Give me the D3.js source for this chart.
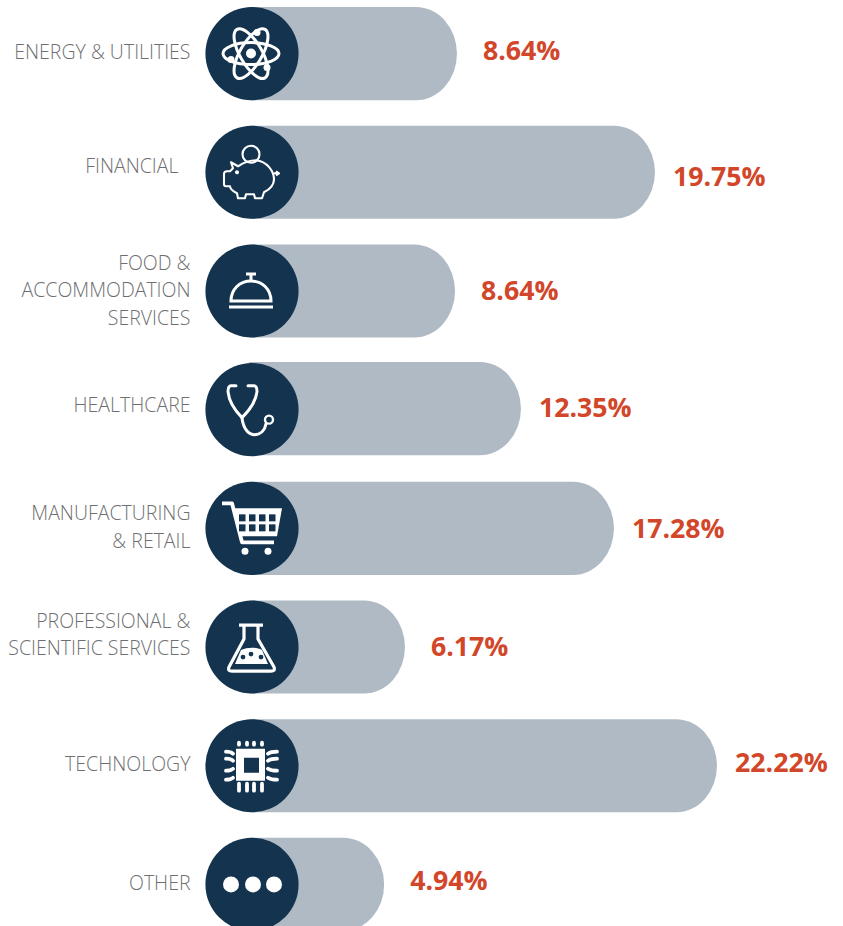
<!DOCTYPE html>
<html><head><meta charset="utf-8">
<script src="https://cdn.jsdelivr.net/npm/d3@7"></script>
<style>html,body{margin:0;padding:0;background:#fff}svg{display:block}</style>
</head><body><svg id="c" width="843" height="926"></svg>
<script>
const categories=["ENERGY & UTILITIES","FINANCIAL","FOOD & ACCOMMODATION SERVICES","HEALTHCARE","MANUFACTURING & RETAIL","PROFESSIONAL & SCIENTIFIC SERVICES","TECHNOLOGY","OTHER"];
const labelLines=[["ENERGY & UTILITIES"],["FINANCIAL"],["FOOD &","ACCOMMODATION","SERVICES"],["HEALTHCARE"],["MANUFACTURING","& RETAIL"],["PROFESSIONAL &","SCIENTIFIC SERVICES"],["TECHNOLOGY"],["OTHER"]];
const values=[8.64,19.75,8.64,12.35,17.28,6.17,22.22,4.94];
// The drawn bars are not strictly proportional to the printed numbers: lengths.
const drawnLengths=[8.72,19.0,8.62,12.04,16.87,6.02,22.22,4.94];
const valueLabelGap=[26,18,26,18,18,26,18,26];
const valueLabelDy=[-3,5,0,-2,1,0,-3,-3];
const labelDx=[0,-12,0,0,0,0,0,0];
const labelDy=[-1,-6,0,-4,-1,-12,-1,-1];
const barDy=[0,0,0,-1,0,0,0,0];
const svg=d3.select("#c");
const NAVY="#13334f",BAR="#afbac4",RED="#d2462a",GREY="#6e6f72";
const y=d3.scaleBand().domain(categories).range([7,931]).paddingInner(0.215).paddingOuter(0);
const x=d3.scaleLinear().domain([0,22.22]).range([289,717]);
const cx=252,h=y.bandwidth(),r=h/2,capX=41;
const rows=svg.selectAll("g.row").data(categories).join("g").attr("class","row");
rows.append("path").attr("fill",BAR).attr("d",(c,i)=>{
  const t=y(c)+barDy[i],e=x(drawnLengths[i]);
  return `M${cx-3} ${t}H${e-capX}A${capX} ${r} 0 0 1 ${e-capX} ${t+h}H${cx-3}Z`;
});
rows.append("circle").attr("cx",cx).attr("cy",c=>y(c)+r).attr("r",r).attr("fill",NAVY);
rows.append("text").attr("text-anchor","end").attr("font-family","'Open Sans'").attr("font-weight",300)
 .attr("font-size",19.5).attr("fill",GREY)
 .each(function(c,i){
   const L=labelLines[i],m=y(c)+r;
   d3.select(this).selectAll("tspan").data(L).join("tspan")
    .attr("x",190.5+labelDx[i]).attr("y",(d,k)=>m+labelDy[i]+6.5+(k-(L.length-1)/2)*27.4).text(d=>d);
 });
rows.append("text").attr("font-family","'Open Sans'").attr("font-weight",700).attr("font-size",26.7).attr("fill",RED)
 .attr("x",(c,i)=>x(drawnLengths[i])+valueLabelGap[i]).attr("y",(c,i)=>y(c)+r+valueLabelDy[i]+9)
 .text((c,i)=>d3.format(".2f")(values[i])+"%");
const icons=[
 g=>{ // atom
  g.attr("fill","none").attr("stroke","#fff").attr("stroke-width",3);
  [0,60,120].forEach(a=>g.append("ellipse").attr("rx",28).attr("ry",11).attr("transform",`translate(-1,0) rotate(${a})`));
  g.append("circle").attr("cx",-1).attr("r",5).attr("fill","#fff").attr("stroke","none");
  [[-21,6],[5,-21],[15,14]].forEach(p=>g.append("circle").attr("cx",p[0]).attr("cy",p[1]).attr("r",3.5).attr("fill","#fff").attr("stroke","none"));
 },
 g=>{ // piggy
  g.attr("fill","none").attr("stroke","#fff").attr("stroke-width",2.1).attr("stroke-linejoin","round");
  g.append("circle").attr("cx",-1).attr("cy",-18).attr("r",8.5);
  g.append("path").attr("d","M-21 -10L-14 -6C-8 -10 -2 -12 4 -12C15 -11 22 -1 22 7C22 13 18 17 12 20L10 26H3L2 22H-6L-7 26H-14L-15 21C-19 19 -22 16 -22 14H-26C-28 14 -28 13 -28 12V2C-28 0 -27 -1 -25 -1H-22L-19 -4Z");
  g.append("path").attr("d","M22 1L26 1M24 -1L27 1L24 3");
  g.append("circle").attr("cx",-15).attr("cy",0).attr("r",1).attr("fill","#fff");
 },
 g=>{ // bell
  g.attr("fill","none").attr("stroke","#fff").attr("stroke-width",3);
  g.append("path").attr("d","M-21 10C-21 -2 -12 -10 -1 -10C10 -10 19 -2 19 10Z");
  g.append("path").attr("d","M-1 -10V-17M-6 -17H4M-23 16H21");
 },
 g=>{ // stethoscope
  g.attr("fill","none").attr("stroke","#fff").attr("stroke-width",3).attr("stroke-linecap","round");
  g.append("path").attr("d","M-16 -24H-21C-24 -24 -24 -21 -24 -18C-23 -8 -18 0 -10 8C-2 0 4 -8 5 -18C5 -21 5 -24 2 -24H-4");
  g.append("path").attr("d","M-10 8C-9 18 -4 25 2 25C9 25 13 20 14 14");
  g.append("circle").attr("cx",17).attr("cy",10).attr("r",4).attr("stroke-width",2.4);
 },
 g=>{ // cart
  g.attr("stroke","#fff").attr("fill","none").attr("stroke-width",3.8).attr("stroke-linejoin","round");
  g.append("path").attr("d","M-30 -25H-20L-10 14H22");
  g.append("path").attr("fill","#fff").attr("stroke","none").attr("d","M-18 -20H30L25 8H-11Z");
  [-13,-3,7,17].forEach(cxv=>[-14,-4].forEach(cyv=>g.append("rect").attr("x",cxv).attr("y",cyv).attr("width",6.5).attr("height",7).attr("fill",NAVY).attr("stroke","none")));
  [-7,16].forEach(v=>g.append("circle").attr("cx",v).attr("cy",23).attr("r",3.5).attr("fill","#fff").attr("stroke","none"));
 },
 g=>{ // flask
  g.attr("fill","none").attr("stroke","#fff").attr("stroke-width",3.2).attr("stroke-linejoin","round");
  g.append("path").attr("d","M-13 -22H11M-8 -22V-8L-23 20C-24 23 -23 24 -20 24H19C22 24 23 23 22 20L6 -8V-22");
  g.append("path").attr("fill","#fff").attr("stroke","none").attr("d","M-11 3C-4 0 4 0 10 3L16 17H-17Z");
  [[-9,10],[-1,7],[9,10]].forEach(p=>g.append("circle").attr("cx",p[0]).attr("cy",p[1]).attr("r",2.4).attr("fill",NAVY).attr("stroke","none"));
 },
 g=>{ // chip
  g.attr("fill","none").attr("stroke","#fff").attr("stroke-linecap","round");
  g.append("path").attr("fill","#fff").attr("fill-rule","evenodd").attr("stroke","none").attr("d","M-16 -17H13V15H-16ZM-8 -8V7H7V-8Z");
  [-13,-5,2,10].forEach(v=>g.append("path").attr("stroke-width",3.8).attr("d",`M${v} -23V-21M${v} 18V25`));
  [-12,-5,3,12].forEach((v,i)=>{
    const c=i<2?-2:2;
    g.append("path").attr("stroke-width",3.8).attr("d",`M-19 ${v}Q-21 ${v+c} -26 ${v+c}M16 ${v}Q19 ${v+c} 25 ${v+c}`);
  });
 },
 g=>{ // dots
  [-21,1,22].forEach(v=>g.append("circle").attr("cx",v).attr("r",8).attr("fill","#fff"));
 }
];
rows.append("g").attr("transform",c=>`translate(${cx},${y(c)+r})`).each(function(c,i){icons[i](d3.select(this));});
</script></body></html>
